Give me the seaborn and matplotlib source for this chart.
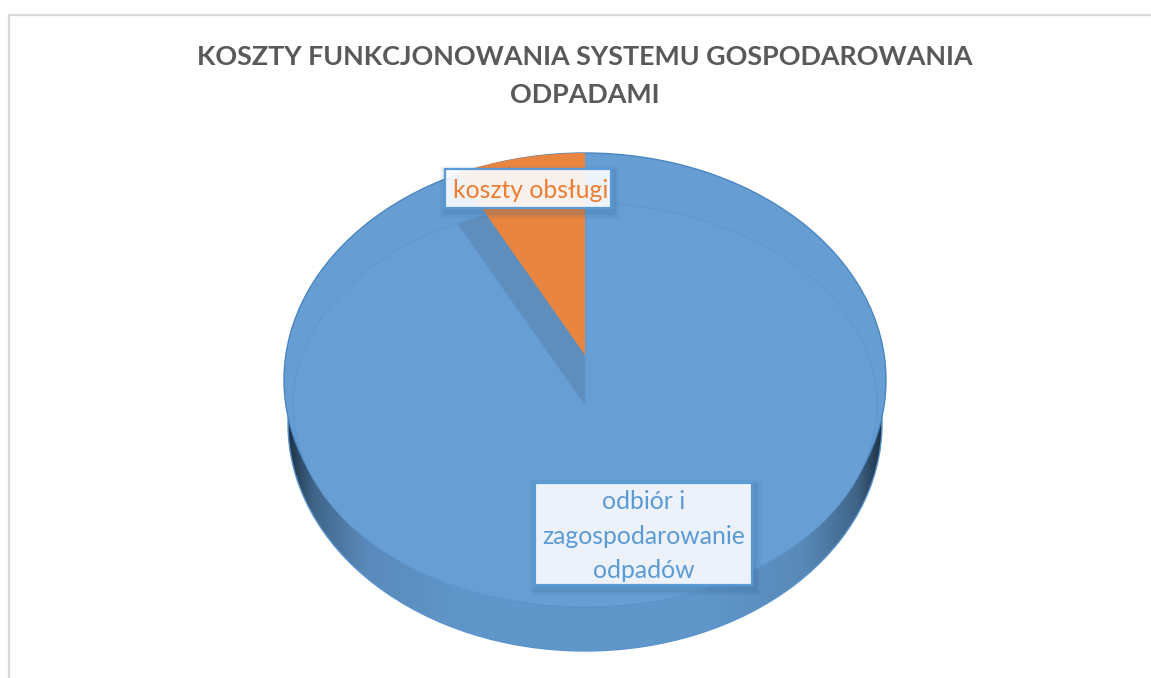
import matplotlib.pyplot as plt
from matplotlib.colors import LinearSegmentedColormap
from matplotlib.lines import Line2D
from matplotlib.patches import Ellipse, Rectangle
import numpy as np
import seaborn as sns

title_lines = ["KOSZTY FUNKCJONOWANIA SYSTEMU GOSPODAROWANIA", "ODPADAMI"]
categories = ["odbiór i\nzagospodarowanie\nodpadów", "koszty obsługi"]
values = [92.8, 7.2]

W, H = 1151, 678
# centre and radii of the top face in pixels, one data unit = one radius
CX, CY, RX, RY = 585, 405, 292, 202

sns.set_theme(style="white")
plt.rcParams["font.family"] = ["Lato", "DejaVu Sans"]

fig = plt.figure(figsize=(W / 100, H / 100), dpi=100, facecolor="white")
ax = fig.add_axes([0, 0, 1, 1])
ax.set_zorder(0)

# side of the disc, horizontal gradient clipped to a shifted ellipse
side_cmap = LinearSegmentedColormap.from_list("side", [
    (0, "#1f3347"), (0.04, "#3f6488"), (0.13, "#5a8abb"), (0.3, "#6097ca"),
    (0.7, "#6097ca"), (0.87, "#5889b8"), (0.96, "#3f6488"), (1, "#1f3347")])
side_shape = Ellipse((0, -19 / RY), 2 * 297 / RX, 2 * 227 / RY, transform=ax.transData, facecolor="none",
                     edgecolor="#5b94cc", linewidth=1, zorder=2)
ax.add_patch(side_shape)
gradient = ax.imshow(np.linspace(0, 1, 256).reshape(1, -1), cmap=side_cmap, aspect="auto",
                     extent=(-297 / RX, 297 / RX, -1.3, 0.5), zorder=1)
gradient.set_clip_path(side_shape)

# outer rim of the top face
rim = Ellipse((0, 25 / RY), 2 * 301 / RX, 2 * 227 / RY, facecolor="#669ed4", edgecolor="#4a86c0", linewidth=1, zorder=2)
ax.add_patch(rim)

# main pie, the notch left by the pulled out slice is the dark wall
wedges, _ = ax.pie(values, colors=["#679fd5", "#5f8dbc"], startangle=90, counterclock=False,
                   wedgeprops={"edgecolor": "#5e97cf", "linewidth": 0.7})
for w in wedges:
    w.set_zorder(3)

# pulled out slice, same values, only the orange one shown
wedges2, _ = ax.pie(values, colors=["none", "#e9853f"], startangle=90, counterclock=False, center=(0, 50 / RY),
                    wedgeprops={"edgecolor": "none"})
wedges2[0].set_visible(False)
wedges2[1].set_zorder(4)
wedges2[1].set_clip_path(rim)

ax.set_aspect("auto")
ax.set_xlim(-CX / RX, (W - CX) / RX)
ax.set_ylim(-(H - CY) / RY, CY / RY)
ax.axis("off")


def px_box(x0, y0, x1, y1, **kw):
    fig.add_artist(Rectangle((x0 / W, 1 - y1 / H), (x1 - x0) / W, (y1 - y0) / H, transform=fig.transFigure, **kw))


def label(x0, y0, x1, y1, face):
    # soft shadow, then the box
    for grow, a in zip([7, 5, 3], [0.06, 0.08, 0.1]):
        px_box(x0 - grow + 2, y0 - grow + 4, x1 + grow + 2, y1 + grow + 4, facecolor="#2f5f90", edgecolor="none", alpha=a, zorder=5)
    px_box(x0, y0, x1, y1, facecolor=face, edgecolor="#5b9bd5", linewidth=1.6, zorder=6)


label(445, 169, 611, 208, (1, 1, 1, 0.9))
label(535, 483, 752, 585, "#edf2fa")

fig.text(531 / W, 1 - 191 / H, categories[1], color="#ed7d31", fontsize=17.8, ha="center", va="center", zorder=7)
fig.text(644 / W, 1 - 536 / H, categories[0], color="#5b9bd5", fontsize=17.8, ha="center", va="center",
         linespacing=1.6, zorder=7)

for text, y in zip(title_lines, [57, 95]):
    fig.text(585 / W, 1 - y / H, text, color="#595959", fontsize=19.4, fontweight="bold", ha="center", va="center", zorder=7)

# chart area border, only top and left are in the crop
fig.add_artist(Line2D([9 / W, 9 / W, 1], [0, 1 - 15 / H, 1 - 15 / H], color="#d9d9d9", linewidth=1.6, zorder=1))

fig.savefig("out.png", dpi=100)
